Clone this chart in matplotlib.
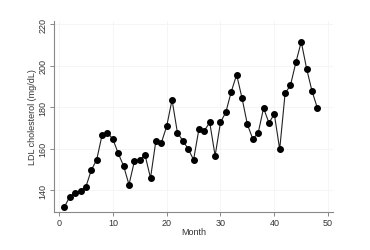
import matplotlib.pyplot as plt
import numpy as np

plt.rcParams['font.family'] = ['Liberation Sans', 'DejaVu Sans']

months = np.arange(1, 49)
ldl = [131.8, 136.8, 138.6, 139.7, 141.6, 149.6, 154.6, 166.5, 167.6, 164.6,
       157.7, 151.6, 142.6, 153.8, 154.6, 156.7, 145.8, 163.8, 162.7, 170.7,
       183.5, 167.6, 163.8, 159.8, 154.6, 169.5, 168.6, 172.6, 156.5, 172.6,
       177.6, 187.4, 195.6, 184.3, 171.6, 164.6, 167.5, 179.5, 172.4, 176.6,
       159.6, 186.6, 190.5, 201.5, 211.5, 198.5, 187.7, 179.5]
xticks = [0, 10, 20, 30, 40, 50]
yticks = [140, 160, 180, 200, 220]

fig = plt.figure(figsize=(3.7, 2.51), dpi=100)
ax = fig.add_axes([54/370, 1-213/251, (333-54)/370, (213-22)/251])

ax.plot(months, ldl, color='#222222', lw=0.8, marker='o', ms=4,
        markerfacecolor='black', markeredgecolor='black')

ax.set_xlim(-0.93, 50.9)
ax.set_ylim(129.4, 221.5)
ax.set_xticks(xticks)
ax.set_yticks(yticks)
ax.set_yticklabels([str(v) for v in yticks], rotation=90, va='center')
ax.grid(True, color='#f4f4f4', lw=0.6)
ax.set_axisbelow(True)

for s in ['top', 'right']:
    ax.spines[s].set_visible(False)
for s in ['left', 'bottom']:
    ax.spines[s].set_color('#888888')
    ax.spines[s].set_linewidth(0.8)
ax.tick_params(colors='#888888', labelcolor='#333333', labelsize=6.5,
               length=3, width=0.7, pad=1.5)

ax.set_xlabel('Month', fontsize=6.5, color='#333333', labelpad=0)
ax.set_ylabel('LDL cholesterol (mg/dL)', fontsize=6.5, color='#333333', labelpad=1)

fig.savefig('out.png', dpi=100)
